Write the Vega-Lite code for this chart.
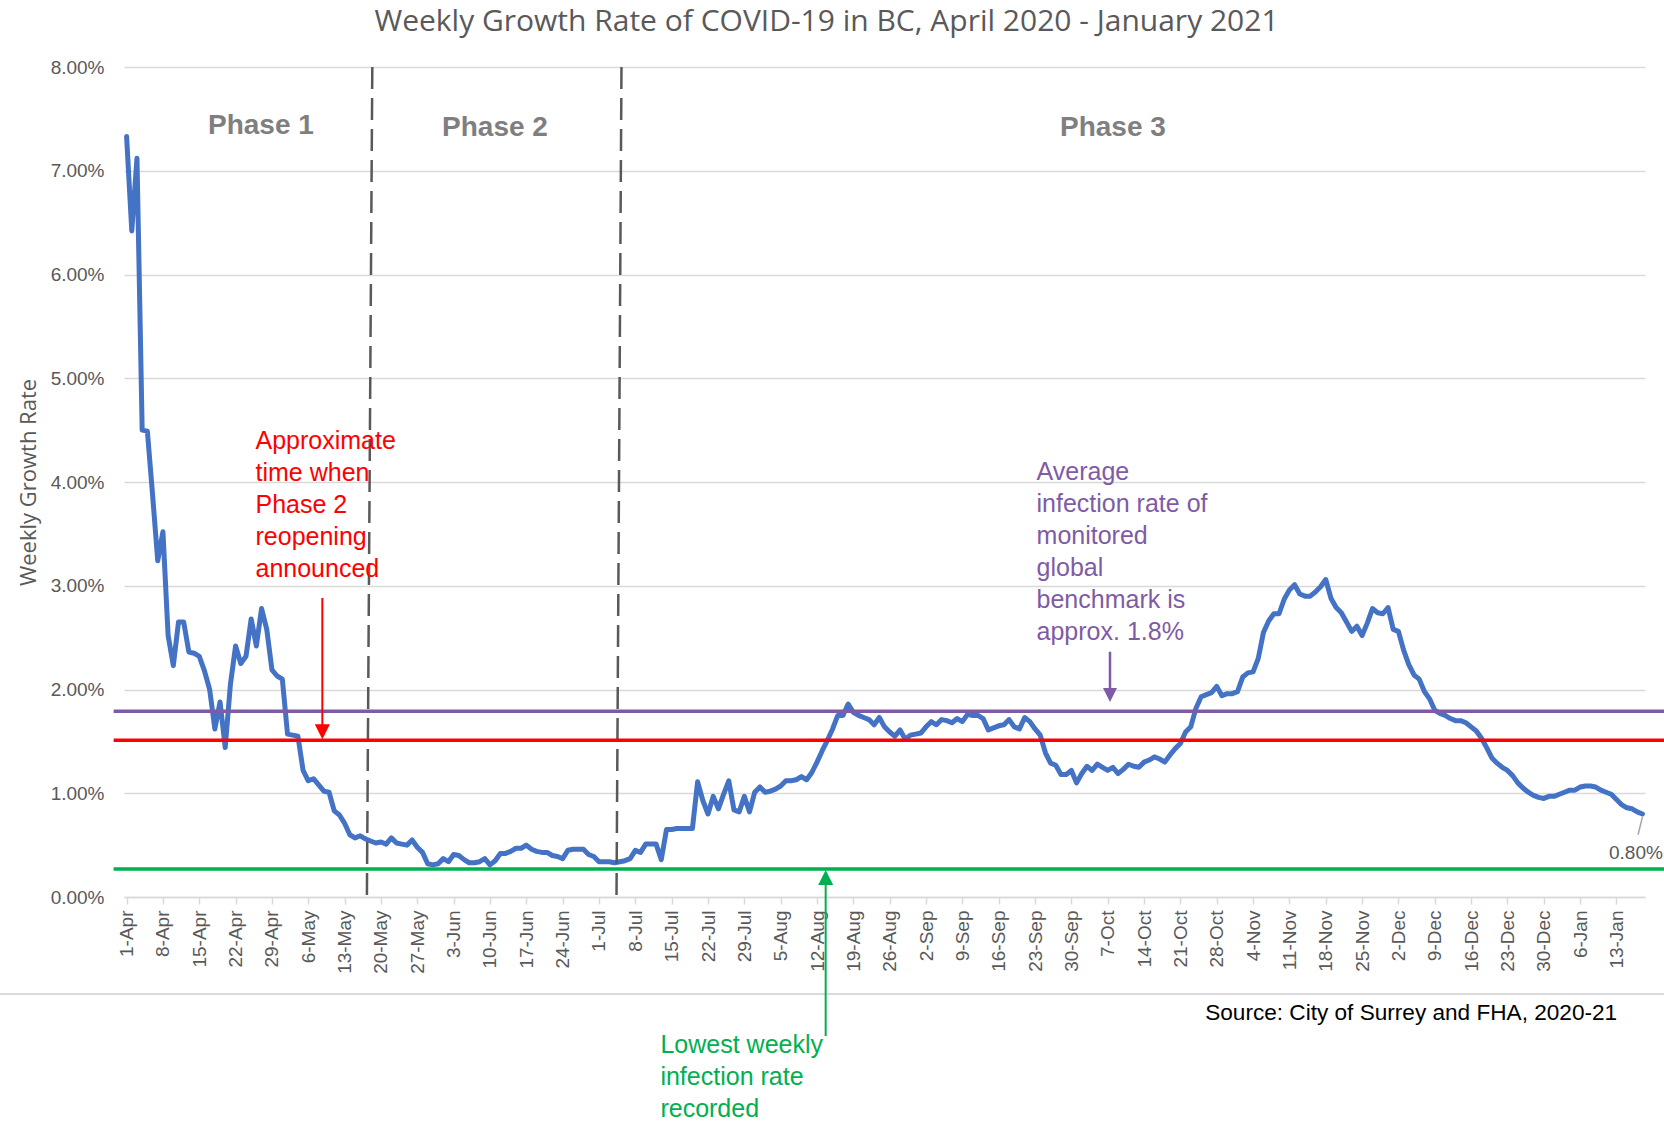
{
  "$schema": "https://vega.github.io/schema/vega-lite/v6.json",
  "width": 1521,
  "height": 830,
  "autosize": "none",
  "padding": {"left": 124, "top": 67, "right": 19, "bottom": 226},
  "background": "white",
  "title": {
    "text": "Weekly Growth Rate of COVID-19 in BC, April 2020 - January 2021",
    "font": "Open Sans", "fontSize": 30, "fontWeight": "normal", "color": "#595959",
    "anchor": "middle", "frame": "group", "baseline": "alphabetic", "offset": -3, "dx": -58
  },
  "config": {
    "view": {"stroke": null},
    "font": "Liberation Sans",
    "axis": {"labelOverlap": false},
    "axisX": {"labelOverlap": false, "labelFlush": false, "labelBound": false}
  },
  "resolve": {"axis": {"x": "independent", "y": "independent"}},
  "data": {"values": [{}]},
  "layer": [
    {
      "data": {"values": [
        {"date":"2020-04-01","rate":7.33},{"date":"2020-04-02","rate":6.42},{"date":"2020-04-03","rate":7.12},{"date":"2020-04-04","rate":4.50},{"date":"2020-04-05","rate":4.49},{"date":"2020-04-06","rate":3.88},{"date":"2020-04-07","rate":3.24},{"date":"2020-04-08","rate":3.52},{"date":"2020-04-09","rate":2.52},{"date":"2020-04-10","rate":2.23},
        {"date":"2020-04-11","rate":2.65},{"date":"2020-04-12","rate":2.65},{"date":"2020-04-13","rate":2.36},{"date":"2020-04-14","rate":2.35},{"date":"2020-04-15","rate":2.32},{"date":"2020-04-16","rate":2.18},{"date":"2020-04-17","rate":2.00},{"date":"2020-04-18","rate":1.62},{"date":"2020-04-19","rate":1.88},{"date":"2020-04-20","rate":1.44},
        {"date":"2020-04-21","rate":2.05},{"date":"2020-04-22","rate":2.42},{"date":"2020-04-23","rate":2.25},{"date":"2020-04-24","rate":2.32},{"date":"2020-04-25","rate":2.68},{"date":"2020-04-26","rate":2.42},{"date":"2020-04-27","rate":2.78},{"date":"2020-04-28","rate":2.58},{"date":"2020-04-29","rate":2.19},{"date":"2020-04-30","rate":2.13},
        {"date":"2020-05-01","rate":2.10},{"date":"2020-05-02","rate":1.57},{"date":"2020-05-03","rate":1.56},{"date":"2020-05-04","rate":1.55},{"date":"2020-05-05","rate":1.22},{"date":"2020-05-06","rate":1.12},{"date":"2020-05-07","rate":1.14},{"date":"2020-05-08","rate":1.08},{"date":"2020-05-09","rate":1.02},{"date":"2020-05-10","rate":1.01},
        {"date":"2020-05-11","rate":0.83},{"date":"2020-05-12","rate":0.79},{"date":"2020-05-13","rate":0.71},{"date":"2020-05-14","rate":0.60},{"date":"2020-05-15","rate":0.57},{"date":"2020-05-16","rate":0.59},{"date":"2020-05-17","rate":0.56},{"date":"2020-05-18","rate":0.54},{"date":"2020-05-19","rate":0.52},{"date":"2020-05-20","rate":0.53},
        {"date":"2020-05-21","rate":0.51},{"date":"2020-05-22","rate":0.57},{"date":"2020-05-23","rate":0.52},{"date":"2020-05-24","rate":0.51},{"date":"2020-05-25","rate":0.50},{"date":"2020-05-26","rate":0.55},{"date":"2020-05-27","rate":0.48},{"date":"2020-05-28","rate":0.43},{"date":"2020-05-29","rate":0.32},{"date":"2020-05-30","rate":0.31},{"date":"2020-05-31","rate":0.32},
        {"date":"2020-06-01","rate":0.37},{"date":"2020-06-02","rate":0.34},{"date":"2020-06-03","rate":0.41},{"date":"2020-06-04","rate":0.40},{"date":"2020-06-05","rate":0.36},{"date":"2020-06-06","rate":0.33},{"date":"2020-06-07","rate":0.33},{"date":"2020-06-08","rate":0.34},{"date":"2020-06-09","rate":0.37},{"date":"2020-06-10","rate":0.31},
        {"date":"2020-06-11","rate":0.35},{"date":"2020-06-12","rate":0.42},{"date":"2020-06-13","rate":0.42},{"date":"2020-06-14","rate":0.44},{"date":"2020-06-15","rate":0.47},{"date":"2020-06-16","rate":0.47},{"date":"2020-06-17","rate":0.50},{"date":"2020-06-18","rate":0.46},{"date":"2020-06-19","rate":0.44},{"date":"2020-06-20","rate":0.43},
        {"date":"2020-06-21","rate":0.43},{"date":"2020-06-22","rate":0.40},{"date":"2020-06-23","rate":0.39},{"date":"2020-06-24","rate":0.37},{"date":"2020-06-25","rate":0.45},{"date":"2020-06-26","rate":0.46},{"date":"2020-06-27","rate":0.46},{"date":"2020-06-28","rate":0.46},{"date":"2020-06-29","rate":0.41},{"date":"2020-06-30","rate":0.39},
        {"date":"2020-07-01","rate":0.34},{"date":"2020-07-02","rate":0.34},{"date":"2020-07-03","rate":0.34},{"date":"2020-07-04","rate":0.33},{"date":"2020-07-05","rate":0.34},{"date":"2020-07-06","rate":0.35},{"date":"2020-07-07","rate":0.37},{"date":"2020-07-08","rate":0.45},{"date":"2020-07-09","rate":0.43},{"date":"2020-07-10","rate":0.51},
        {"date":"2020-07-11","rate":0.51},{"date":"2020-07-12","rate":0.51},{"date":"2020-07-13","rate":0.36},{"date":"2020-07-14","rate":0.65},{"date":"2020-07-15","rate":0.65},{"date":"2020-07-16","rate":0.66},{"date":"2020-07-17","rate":0.66},{"date":"2020-07-18","rate":0.66},{"date":"2020-07-19","rate":0.66},{"date":"2020-07-20","rate":1.11},
        {"date":"2020-07-21","rate":0.93},{"date":"2020-07-22","rate":0.80},{"date":"2020-07-23","rate":0.97},{"date":"2020-07-24","rate":0.85},{"date":"2020-07-25","rate":0.99},{"date":"2020-07-26","rate":1.12},{"date":"2020-07-27","rate":0.84},{"date":"2020-07-28","rate":0.82},{"date":"2020-07-29","rate":0.97},{"date":"2020-07-30","rate":0.82},{"date":"2020-07-31","rate":1.01},
        {"date":"2020-08-01","rate":1.06},{"date":"2020-08-02","rate":1.01},{"date":"2020-08-03","rate":1.02},{"date":"2020-08-04","rate":1.04},{"date":"2020-08-05","rate":1.07},{"date":"2020-08-06","rate":1.12},{"date":"2020-08-07","rate":1.12},{"date":"2020-08-08","rate":1.13},{"date":"2020-08-09","rate":1.16},{"date":"2020-08-10","rate":1.13},
        {"date":"2020-08-11","rate":1.20},{"date":"2020-08-12","rate":1.30},{"date":"2020-08-13","rate":1.41},{"date":"2020-08-14","rate":1.51},{"date":"2020-08-15","rate":1.62},{"date":"2020-08-16","rate":1.75},{"date":"2020-08-17","rate":1.75},{"date":"2020-08-18","rate":1.86},{"date":"2020-08-19","rate":1.78},{"date":"2020-08-20","rate":1.75},
        {"date":"2020-08-21","rate":1.73},{"date":"2020-08-22","rate":1.71},{"date":"2020-08-23","rate":1.66},{"date":"2020-08-24","rate":1.73},{"date":"2020-08-25","rate":1.64},{"date":"2020-08-26","rate":1.59},{"date":"2020-08-27","rate":1.55},{"date":"2020-08-28","rate":1.61},{"date":"2020-08-29","rate":1.52},{"date":"2020-08-30","rate":1.56},{"date":"2020-08-31","rate":1.57},
        {"date":"2020-09-01","rate":1.58},{"date":"2020-09-02","rate":1.64},{"date":"2020-09-03","rate":1.69},{"date":"2020-09-04","rate":1.66},{"date":"2020-09-05","rate":1.71},{"date":"2020-09-06","rate":1.70},{"date":"2020-09-07","rate":1.68},{"date":"2020-09-08","rate":1.72},{"date":"2020-09-09","rate":1.69},{"date":"2020-09-10","rate":1.76},
        {"date":"2020-09-11","rate":1.75},{"date":"2020-09-12","rate":1.75},{"date":"2020-09-13","rate":1.72},{"date":"2020-09-14","rate":1.61},{"date":"2020-09-15","rate":1.63},{"date":"2020-09-16","rate":1.65},{"date":"2020-09-17","rate":1.66},{"date":"2020-09-18","rate":1.71},{"date":"2020-09-19","rate":1.64},{"date":"2020-09-20","rate":1.62},
        {"date":"2020-09-21","rate":1.73},{"date":"2020-09-22","rate":1.69},{"date":"2020-09-23","rate":1.62},{"date":"2020-09-24","rate":1.56},{"date":"2020-09-25","rate":1.39},{"date":"2020-09-26","rate":1.29},{"date":"2020-09-27","rate":1.27},{"date":"2020-09-28","rate":1.18},{"date":"2020-09-29","rate":1.18},{"date":"2020-09-30","rate":1.22},
        {"date":"2020-10-01","rate":1.10},{"date":"2020-10-02","rate":1.19},{"date":"2020-10-03","rate":1.26},{"date":"2020-10-04","rate":1.22},{"date":"2020-10-05","rate":1.28},{"date":"2020-10-06","rate":1.25},{"date":"2020-10-07","rate":1.22},{"date":"2020-10-08","rate":1.25},{"date":"2020-10-09","rate":1.19},{"date":"2020-10-10","rate":1.23},
        {"date":"2020-10-11","rate":1.28},{"date":"2020-10-12","rate":1.26},{"date":"2020-10-13","rate":1.25},{"date":"2020-10-14","rate":1.30},{"date":"2020-10-15","rate":1.32},{"date":"2020-10-16","rate":1.35},{"date":"2020-10-17","rate":1.33},{"date":"2020-10-18","rate":1.30},{"date":"2020-10-19","rate":1.37},{"date":"2020-10-20","rate":1.43},
        {"date":"2020-10-21","rate":1.48},{"date":"2020-10-22","rate":1.59},{"date":"2020-10-23","rate":1.64},{"date":"2020-10-24","rate":1.82},{"date":"2020-10-25","rate":1.93},{"date":"2020-10-26","rate":1.95},{"date":"2020-10-27","rate":1.97},{"date":"2020-10-28","rate":2.03},{"date":"2020-10-29","rate":1.94},{"date":"2020-10-30","rate":1.96},{"date":"2020-10-31","rate":1.96},
        {"date":"2020-11-01","rate":1.98},{"date":"2020-11-02","rate":2.12},{"date":"2020-11-03","rate":2.16},{"date":"2020-11-04","rate":2.17},{"date":"2020-11-05","rate":2.30},{"date":"2020-11-06","rate":2.55},{"date":"2020-11-07","rate":2.66},{"date":"2020-11-08","rate":2.73},{"date":"2020-11-09","rate":2.73},{"date":"2020-11-10","rate":2.87},
        {"date":"2020-11-11","rate":2.96},{"date":"2020-11-12","rate":3.01},{"date":"2020-11-13","rate":2.92},{"date":"2020-11-14","rate":2.90},{"date":"2020-11-15","rate":2.90},{"date":"2020-11-16","rate":2.94},{"date":"2020-11-17","rate":2.99},{"date":"2020-11-18","rate":3.06},{"date":"2020-11-19","rate":2.88},{"date":"2020-11-20","rate":2.79},
        {"date":"2020-11-21","rate":2.74},{"date":"2020-11-22","rate":2.65},{"date":"2020-11-23","rate":2.56},{"date":"2020-11-24","rate":2.61},{"date":"2020-11-25","rate":2.52},{"date":"2020-11-26","rate":2.64},{"date":"2020-11-27","rate":2.78},{"date":"2020-11-28","rate":2.74},{"date":"2020-11-29","rate":2.73},{"date":"2020-11-30","rate":2.79},
        {"date":"2020-12-01","rate":2.58},{"date":"2020-12-02","rate":2.56},{"date":"2020-12-03","rate":2.38},{"date":"2020-12-04","rate":2.24},{"date":"2020-12-05","rate":2.14},{"date":"2020-12-06","rate":2.10},{"date":"2020-12-07","rate":1.98},{"date":"2020-12-08","rate":1.91},{"date":"2020-12-09","rate":1.80},{"date":"2020-12-10","rate":1.77},
        {"date":"2020-12-11","rate":1.75},{"date":"2020-12-12","rate":1.72},{"date":"2020-12-13","rate":1.70},{"date":"2020-12-14","rate":1.70},{"date":"2020-12-15","rate":1.68},{"date":"2020-12-16","rate":1.64},{"date":"2020-12-17","rate":1.60},{"date":"2020-12-18","rate":1.53},{"date":"2020-12-19","rate":1.44},{"date":"2020-12-20","rate":1.34},
        {"date":"2020-12-21","rate":1.29},{"date":"2020-12-22","rate":1.25},{"date":"2020-12-23","rate":1.22},{"date":"2020-12-24","rate":1.17},{"date":"2020-12-25","rate":1.10},{"date":"2020-12-26","rate":1.05},{"date":"2020-12-27","rate":1.01},{"date":"2020-12-28","rate":0.98},{"date":"2020-12-29","rate":0.96},{"date":"2020-12-30","rate":0.95},{"date":"2020-12-31","rate":0.97},
        {"date":"2021-01-01","rate":0.97},{"date":"2021-01-02","rate":0.99},{"date":"2021-01-03","rate":1.01},{"date":"2021-01-04","rate":1.03},{"date":"2021-01-05","rate":1.03},{"date":"2021-01-06","rate":1.06},{"date":"2021-01-07","rate":1.07},{"date":"2021-01-08","rate":1.07},{"date":"2021-01-09","rate":1.06},{"date":"2021-01-10","rate":1.03},
        {"date":"2021-01-11","rate":1.01},{"date":"2021-01-12","rate":0.99},{"date":"2021-01-13","rate":0.94},{"date":"2021-01-14","rate":0.89},{"date":"2021-01-15","rate":0.86},{"date":"2021-01-16","rate":0.85},{"date":"2021-01-17","rate":0.82},{"date":"2021-01-18","rate":0.80}
      ]},
      "mark": {"type": "line", "color": "#4472c4", "strokeWidth": 5, "strokeJoin": "round", "strokeCap": "round"},
      "encoding": {
        "x": {
          "field": "date", "type": "temporal",
          "scale": {"type": "utc", "nice": false, "domain": [
            {"year": 2020, "month": 3, "date": 31, "hours": 12, "utc": true},
            {"year": 2021, "month": 1, "date": 18, "hours": 12, "utc": true}
          ]},
          "axis": {
            "values": [1585699200000,1586304000000,1586908800000,1587513600000,1588118400000,1588723200000,1589328000000,1589932800000,1590537600000,1591142400000,1591747200000,1592352000000,1592956800000,1593561600000,1594166400000,1594771200000,1595376000000,1595980800000,1596585600000,1597190400000,1597795200000,1598400000000,1599004800000,1599609600000,1600214400000,1600819200000,1601424000000,1602028800000,1602633600000,1603238400000,1603843200000,1604448000000,1605052800000,1605657600000,1606262400000,1606867200000,1607472000000,1608076800000,1608681600000,1609286400000,1609891200000,1610496000000],
            "labelExpr": "utcFormat(datum.value, '%-d-%b')",
            "labelAngle": 270, "labelFont": "Liberation Sans", "labelFontSize": 19, "labelColor": "#595959",
            "labelPadding": 6, "labelOverlap": false, "labelFlush": false, "labelSeparation": 0,
            "grid": false, "domain": true, "domainColor": "#d9d9d9", "domainWidth": 1.6,
            "ticks": true, "tickColor": "#d9d9d9", "tickSize": 7, "tickWidth": 1.5,
            "title": null
          }
        },
        "y": {
          "field": "rate", "type": "quantitative",
          "scale": {"domain": [0, 8], "nice": false},
          "axis": {
            "values": [0,1,2,3,4,5,6,7,8],
            "labelExpr": "format(datum.value, '.2f') + '%'",
            "grid": true, "gridColor": "#d9d9d9", "gridWidth": 1.6,
            "domain": false, "ticks": false, "tickSize": 0, "labelPadding": 20,
            "labelFont": "Liberation Sans", "labelFontSize": 19, "labelColor": "#595959",
            "title": "Weekly Growth Rate", "titleFont": "Open Sans", "titleFontSize": 22,
            "titleFontWeight": "normal", "titleColor": "#595959", "titlePadding": 10
          }
        }
      }
    },
    {
      "mark": {"type": "rule", "color": "#d9d9d9", "strokeWidth": 2},
      "encoding": {
        "x": {"datum": {"year": 2020, "month": 3, "date": 1, "utc": true}, "axis": null},
        "x2": {"datum": {"year": 2021, "month": 2, "date": 1, "utc": true}},
        "y": {"datum": -0.935, "axis": null}
      }
    },
    {
      "mark": {"type": "rule", "color": "#595959", "strokeWidth": 2.5, "strokeDash": [22, 9]},
      "encoding": {
        "x": {"datum": {"year": 2020, "month": 5, "date": 18, "hours": 8, "utc": true}, "axis": null},
        "y": {"datum": 8, "axis": null},
        "x2": {"datum": {"year": 2020, "month": 5, "date": 17, "hours": 7, "utc": true}},
        "y2": {"datum": 0}
      }
    },
    {
      "mark": {"type": "rule", "color": "#595959", "strokeWidth": 2.5, "strokeDash": [22, 9]},
      "encoding": {
        "x": {"datum": {"year": 2020, "month": 7, "date": 5, "hours": 8, "utc": true}, "axis": null},
        "y": {"datum": 8, "axis": null},
        "x2": {"datum": {"year": 2020, "month": 7, "date": 4, "hours": 9, "utc": true}},
        "y2": {"datum": 0}
      }
    },
    {
      "mark": {"type": "rule", "color": "#7f5ba6", "strokeWidth": 3.5},
      "encoding": {
        "x": {"datum": {"year": 2020, "month": 3, "date": 29, "hours": 12, "utc": true}, "axis": null},
        "x2": {"datum": {"year": 2021, "month": 1, "date": 23, "utc": true}},
        "y": {"datum": 1.79, "axis": null}
      }
    },
    {
      "mark": {"type": "rule", "color": "#ff0000", "strokeWidth": 3.5},
      "encoding": {
        "x": {"datum": {"year": 2020, "month": 3, "date": 29, "hours": 12, "utc": true}, "axis": null},
        "x2": {"datum": {"year": 2021, "month": 1, "date": 23, "utc": true}},
        "y": {"datum": 1.51, "axis": null}
      }
    },
    {
      "mark": {"type": "rule", "color": "#00b050", "strokeWidth": 3.5},
      "encoding": {
        "x": {"datum": {"year": 2020, "month": 3, "date": 29, "hours": 12, "utc": true}, "axis": null},
        "x2": {"datum": {"year": 2021, "month": 1, "date": 23, "utc": true}},
        "y": {"datum": 0.27, "axis": null}
      }
    },
    {
      "mark": {"type": "rule", "color": "#ff0000", "strokeWidth": 2},
      "encoding": {
        "x": {"datum": {"year": 2020, "month": 5, "date": 8, "hours": 17, "utc": true}, "axis": null},
        "y": {"datum": 2.882, "axis": null},
        "y2": {"datum": 1.63}
      }
    },
    {
      "mark": {"type": "point", "shape": "M-1,-1L1,-1L0,1Z", "size": 225, "filled": true, "opacity": 1, "color": "#ff0000"},
      "encoding": {
        "x": {"datum": {"year": 2020, "month": 5, "date": 8, "hours": 17, "utc": true}, "axis": null},
        "y": {"datum": 1.593, "axis": null}
      }
    },
    {
      "mark": {"type": "rule", "color": "#7f5ba6", "strokeWidth": 2.5},
      "encoding": {
        "x": {"datum": {"year": 2020, "month": 10, "date": 7, "hours": 10, "minutes": 30, "utc": true}, "axis": null},
        "y": {"datum": 2.364, "axis": null},
        "y2": {"datum": 1.995}
      }
    },
    {
      "mark": {"type": "point", "shape": "M-1,-1L1,-1L0,1Z", "size": 196, "filled": true, "opacity": 1, "color": "#7f5ba6"},
      "encoding": {
        "x": {"datum": {"year": 2020, "month": 10, "date": 7, "hours": 10, "minutes": 30, "utc": true}, "axis": null},
        "y": {"datum": 1.947, "axis": null}
      }
    },
    {
      "mark": {"type": "rule", "color": "#00b050", "strokeWidth": 2},
      "encoding": {
        "x": {"datum": {"year": 2020, "month": 8, "date": 13, "hours": 16, "utc": true}, "axis": null},
        "y": {"datum": 0.15, "axis": null},
        "y2": {"datum": -1.34}
      }
    },
    {
      "mark": {"type": "point", "shape": "M-1,1L1,1L0,-1Z", "size": 225, "filled": true, "opacity": 1, "color": "#00b050"},
      "encoding": {
        "x": {"datum": {"year": 2020, "month": 8, "date": 13, "hours": 16, "utc": true}, "axis": null},
        "y": {"datum": 0.188, "axis": null}
      }
    },
    {
      "mark": {"type": "text", "text": ["Approximate", "time when", "Phase 2", "reopening", "announced"], "font": "Liberation Sans", "fontSize": 25, "color": "#ff0000", "align": "left", "baseline": "middle", "lineHeight": 32},
      "encoding": {
        "x": {"datum": {"year": 2020, "month": 4, "date": 25, "hours": 20, "utc": true}, "axis": null},
        "y": {"datum": 4.40, "axis": null}
      }
    },
    {
      "mark": {"type": "text", "text": ["Average", "infection rate of", "monitored", "global", "benchmark is", "approx. 1.8%"], "font": "Liberation Sans", "fontSize": 25, "color": "#7f5ba6", "align": "left", "baseline": "middle", "lineHeight": 32},
      "encoding": {
        "x": {"datum": {"year": 2020, "month": 9, "date": 23, "hours": 7, "utc": true}, "axis": null},
        "y": {"datum": 4.092, "axis": null}
      }
    },
    {
      "mark": {"type": "text", "text": ["Lowest weekly", "infection rate", "recorded"], "font": "Liberation Sans", "fontSize": 25, "color": "#00b050", "align": "left", "baseline": "middle", "lineHeight": 32},
      "encoding": {
        "x": {"datum": {"year": 2020, "month": 7, "date": 12, "hours": 20, "utc": true}, "axis": null},
        "y": {"datum": -1.43, "axis": null}
      }
    },
    {
      "mark": {"type": "text", "text": "Phase 1", "font": "Liberation Sans", "fontSize": 28, "fontWeight": "bold", "color": "#7f7f7f", "align": "center", "baseline": "middle"},
      "encoding": {
        "x": {"datum": {"year": 2020, "month": 4, "date": 26, "hours": 21, "utc": true}, "axis": null},
        "y": {"datum": 7.43, "axis": null}
      }
    },
    {
      "mark": {"type": "text", "text": "Phase 2", "font": "Liberation Sans", "fontSize": 28, "fontWeight": "bold", "color": "#7f7f7f", "align": "center", "baseline": "middle"},
      "encoding": {
        "x": {"datum": {"year": 2020, "month": 6, "date": 10, "hours": 23, "utc": true}, "axis": null},
        "y": {"datum": 7.41, "axis": null}
      }
    },
    {
      "mark": {"type": "text", "text": "Phase 3", "font": "Liberation Sans", "fontSize": 28, "fontWeight": "bold", "color": "#7f7f7f", "align": "center", "baseline": "middle"},
      "encoding": {
        "x": {"datum": {"year": 2020, "month": 10, "date": 8, "utc": true}, "axis": null},
        "y": {"datum": 7.41, "axis": null}
      }
    },
    {
      "mark": {"type": "rule", "color": "#a6a6a6", "strokeWidth": 1.5},
      "encoding": {
        "x": {"datum": {"year": 2021, "month": 1, "date": 18, "utc": true}, "axis": null},
        "y": {"datum": 0.77, "axis": null},
        "x2": {"datum": {"year": 2021, "month": 1, "date": 17, "hours": 4, "utc": true}},
        "y2": {"datum": 0.6}
      }
    },
    {
      "mark": {"type": "text", "text": "0.80%", "font": "Liberation Sans", "fontSize": 19, "color": "#595959", "align": "center", "baseline": "middle"},
      "encoding": {
        "x": {"datum": {"year": 2021, "month": 1, "date": 16, "hours": 18, "utc": true}, "axis": null},
        "y": {"datum": 0.424, "axis": null}
      }
    },
    {
      "mark": {"type": "text", "text": "Source: City of Surrey and FHA, 2020-21", "font": "Liberation Sans", "fontSize": 22.6, "color": "#000000", "align": "right", "baseline": "middle"},
      "encoding": {
        "x": {"datum": {"year": 2021, "month": 1, "date": 13, "hours": 3, "utc": true}, "axis": null},
        "y": {"datum": -1.118, "axis": null}
      }
    }
  ]
}
